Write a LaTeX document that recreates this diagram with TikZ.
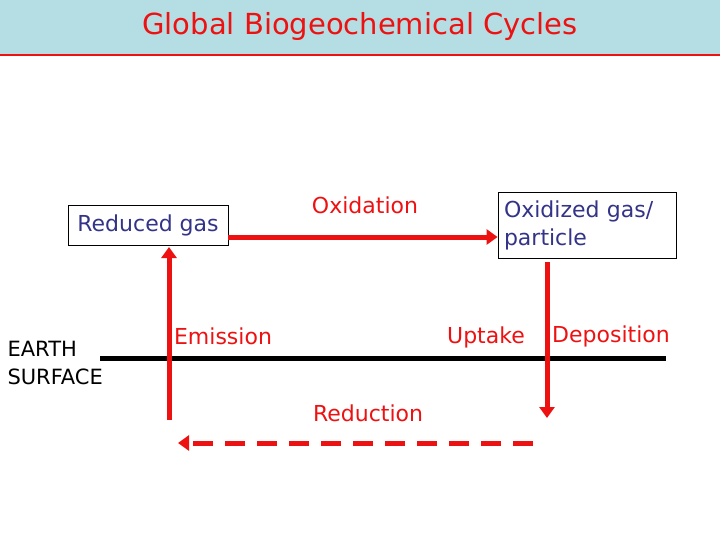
\documentclass[tikz,border=0pt]{standalone}
\usepackage{fontspec}
\setmainfont{DejaVu Sans}
\usetikzlibrary{arrows.meta}
\definecolor{bandblue}{HTML}{B4DEE3}
\definecolor{boxblue}{HTML}{333388}
\definecolor{flowred}{HTML}{EE1111}
\tikzset{
  pool/.style={draw=black,line width=0.8pt,text=boxblue,align=left,inner sep=4pt,font=\fontsize{22}{28}\selectfont},
  proc/.style={text=flowred,font=\fontsize{22}{26}\selectfont},
  flow/.style={draw=flowred,line width=5pt,-{Triangle[length=11pt,width=15pt]}}
}
\begin{document}
\begin{tikzpicture}[x=1pt,y=-1pt]
\useasboundingbox (0,0) rectangle (720,540);
\fill[bandblue] (0,0) rectangle (720,54);
\draw[flowred,line width=1.5pt] (0,55) -- (720,55);
\node[text=flowred,font=\fontsize{29}{32}\selectfont] (title) at (360,27) {Global Biogeochemical Cycles};

\node[pool,minimum width=160pt,minimum height=40pt] (red) at (148,225) {Reduced gas};
\node[pool,minimum width=178pt,minimum height=66pt,text width=166pt] (ox) at (587,225) {Oxidized gas/\\particle};
\node[proc] (oxl) at (365,205) {Oxidation};
\node[proc] (eml) at (223,336) {Emission};
\node[proc] (upl) at (486,337) {Uptake};
\node[proc] (depl) at (611,336) {Deposition};
\node[proc] (redl) at (368,413) {Reduction};
\node[text=black,align=left,anchor=west,font=\fontsize{21}{28}\selectfont] (earth) at (4,363) {EARTH\\SURFACE};

\coordinate (gl) at (100,358);
\coordinate (gr) at (666,358);
\coordinate (embot) at (169,420);
\coordinate (deptop) at (547,262);
\coordinate (depbot) at (547,418);
\coordinate (rs) at (533,443);
\coordinate (re) at (178,443);

\draw[black,line width=5pt] (gl) -- (gr);
\draw[flow] (red.east |- 0,237) -- (ox.west |- 0,237);
\draw[flow] (embot) -- (169,247);
\draw[flow] (deptop) -- (depbot);
\draw[flow,dash pattern=on 20pt off 12pt] (rs) -- (re);
\end{tikzpicture}
\end{document}
